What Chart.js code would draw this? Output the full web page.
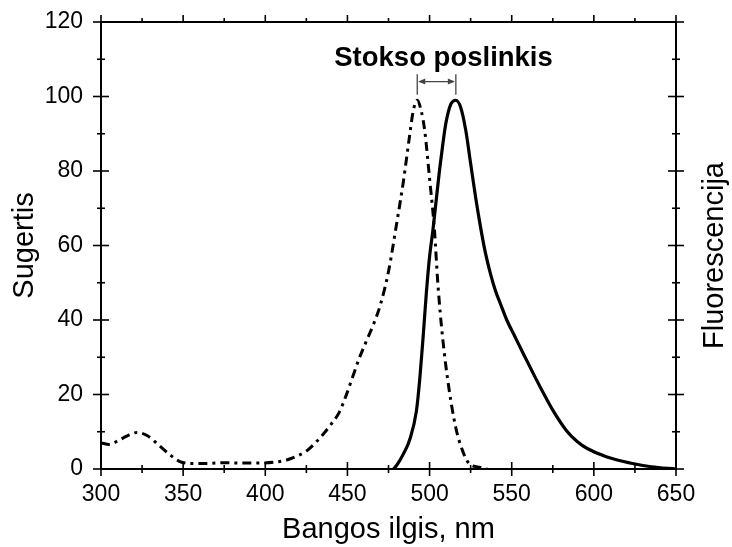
<!DOCTYPE html>
<html lang="lt">
<head>
  <meta charset="UTF-8">
  <title>Stokso poslinkis</title>
  <style>
    body { margin: 0; background: #fff; }
  </style>
</head>
<body>
  <canvas id="myChart" width="732" height="547"></canvas>
  <script src="https://cdn.jsdelivr.net/npm/chart.js"></script>
  <script>
    // sugerties (absorbcijos) kreive - brukšnys-taškas
    const absorbNm  = [300, 305, 310, 316, 322, 328, 335, 342, 348, 355, 365, 375, 385, 395, 405, 413, 420, 425, 430, 435, 440, 445, 449, 453, 457, 461, 466, 470, 475, 480, 484, 488, 490, 492.5, 495, 497, 500, 503, 505, 508, 512, 516, 520, 524, 530, 535]
    const absorbVal = [7, 6.6, 7.5, 8.9, 9.8, 9, 6.5, 3.8, 2, 1.5, 1.5, 1.7, 1.6, 1.6, 1.8, 2.4, 3.6, 4.8, 6.8, 9.2, 12, 15.2, 19.5, 24.5, 29.5, 33.8, 39, 44, 53, 66, 77, 90, 96, 99, 96, 91, 78, 64, 50, 35, 21, 11, 5, 1.5, 0.5, 0]

    // fluorescencijos kreive - ištisine
    const fluorNm  = [478, 480, 484, 488, 492, 494, 496, 498, 500, 502, 504, 506, 508, 510, 513, 516, 519, 522, 525, 528, 531, 534, 537, 540, 543, 547, 552, 557, 565, 570, 575, 583, 590, 596, 608, 622, 635, 650]
    const fluorVal = [0, 1, 4, 8, 15.6, 24, 35, 47, 57, 64, 72, 80, 87, 93, 98, 99, 97, 91, 82, 73, 65, 58, 52.5, 48, 44.5, 40, 35.5, 31, 24, 19.8, 15.8, 10.5, 7.3, 5.5, 3.2, 1.6, 0.6, 0]

    const xMin = 300, xMax = 650, xStep = 50, xMinor = 25
    const yMin = 0, yMax = 120, yStep = 20, yMinor = 10

    const absorbPeak = 492.5
    const fluorPeak = 516

    const toPoints = (xs, ys) => xs.map((v, i) => ({x: v, y: ys[i]}))

    const font = 'Liberation Sans, Arial, Helvetica, sans-serif'

    // ramelis, briaunos, Stokso poslinkio rodykle, dešines ašies pavadinimas
    const extras = {
      id: 'extras',
      afterDraw(chart) {
        const {ctx, chartArea: a, scales: {x, y}} = chart
        const line = (x1, y1, x2, y2) => {
          ctx.beginPath(); ctx.moveTo(x1, y1); ctx.lineTo(x2, y2); ctx.stroke()
        }
        ctx.save()
        ctx.strokeStyle = '#000'
        ctx.lineWidth = 2
        line(a.left, a.top, a.right, a.top)
        line(a.right, a.top, a.right, a.bottom)

        ctx.lineWidth = 1.6
        for (let v = xMin; v <= xMax; v += xMinor) {
          const px = x.getPixelForValue(v)
          const len = v % xStep === 0 ? 7 : 4
          line(px, a.bottom - len, px, a.bottom + len)
          line(px, a.top, px, a.top - len)
        }
        for (let v = yMin; v <= yMax; v += yMinor) {
          const py = y.getPixelForValue(v)
          const len = v % yStep === 0 ? 8 : 4
          line(a.left - len, py, a.left + len, py)
          line(a.right - len, py, a.right + len, py)
        }

        // Stokso poslinkis
        const x1 = x.getPixelForValue(absorbPeak)
        const x2 = x.getPixelForValue(fluorPeak)
        const yTop = y.getPixelForValue(106)
        const yBot = y.getPixelForValue(100.5)
        const yArr = y.getPixelForValue(104)
        ctx.strokeStyle = '#444'
        ctx.fillStyle = '#444'
        ctx.lineWidth = 1.3
        line(x1, yTop, x1, yBot)
        line(x2, yTop, x2, yBot)
        line(x1 + 2, yArr, x2 - 2, yArr)
        const head = (tip, dir) => {
          ctx.beginPath()
          ctx.moveTo(tip, yArr)
          ctx.lineTo(tip + dir * 7, yArr - 3)
          ctx.lineTo(tip + dir * 7, yArr + 3)
          ctx.closePath()
          ctx.fill()
        }
        head(x1 + 1, 1)
        head(x2 - 1, -1)

        ctx.fillStyle = '#000'
        ctx.font = 'bold 27.5px ' + font
        ctx.textAlign = 'center'
        ctx.textBaseline = 'middle'
        ctx.fillText('Stokso poslinkis', x.getPixelForValue(508.5), y.getPixelForValue(110.3))

        ctx.font = '29px ' + font
        ctx.translate(a.right + 39, (a.top + a.bottom) / 2 + 10)
        ctx.rotate(-Math.PI / 2)
        ctx.fillText('Fluorescencija', 0, 0)
        ctx.restore()
      }
    }

    const ctx = document.getElementById('myChart')

    new Chart(ctx, {
      type: 'line',
      data: {
        datasets: [
          {
            label: 'Sugertis',
            data: toPoints(absorbNm, absorbVal),
            borderColor: '#000',
            borderWidth: 3,
            borderDash: [9, 5, 3, 5],
            pointRadius: 0,
            cubicInterpolationMode: 'monotone',
            fill: false
          },
          {
            label: 'Fluorescencija',
            data: toPoints(fluorNm, fluorVal),
            borderColor: '#000',
            borderWidth: 3.2,
            pointRadius: 0,
            cubicInterpolationMode: 'monotone',
            fill: false
          }
        ]
      },
      options: {
        responsive: false,
        animation: false,
        layout: {padding: {top: 22, right: 56, left: 0, bottom: 0}},
        plugins: {
          legend: {display: false},
          tooltip: {enabled: false}
        },
        scales: {
          x: {
            type: 'linear',
            min: xMin,
            max: xMax,
            afterFit: s => { s.height = 78; s.paddingLeft = 0; s.paddingRight = 0 },
            grid: {display: false, drawTicks: false},
            border: {display: true, color: '#000', width: 2},
            ticks: {stepSize: xStep, padding: 12, color: '#000', font: {family: font, size: 23}},
            title: {display: true, text: 'Bangos ilgis, nm', color: '#000', font: {family: font, size: 29}, padding: {bottom: 0}}
          },
          y: {
            min: yMin,
            max: yMax,
            afterFit: s => { s.width = 101; s.paddingTop = 0; s.paddingBottom = 0 },
            grid: {display: false, drawTicks: false},
            border: {display: true, color: '#000', width: 2},
            ticks: {stepSize: yStep, padding: 18, color: '#000', font: {family: font, size: 23}},
            title: {display: true, text: 'Sugertis', color: '#000', font: {family: font, size: 29}, padding: {top: 8}}
          }
        }
      },
      plugins: [extras]
    })
  </script>
</body>
</html>
